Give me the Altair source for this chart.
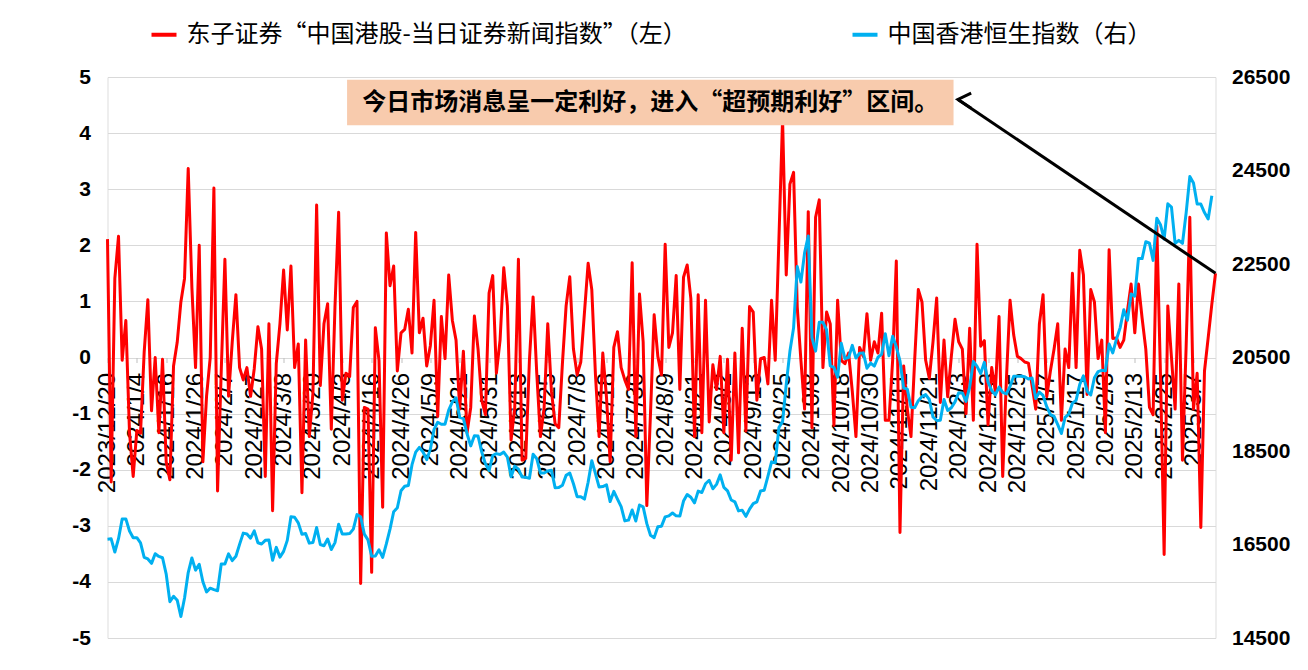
import altair as alt
import pandas as pd

# ---------------- data ----------------
TICK_LABELS = [
    "2023/12/20", "2024/1/4", "2024/1/16", "2024/1/26", "2024/2/7", "2024/2/27",
    "2024/3/8", "2024/3/20", "2024/4/3", "2024/4/16", "2024/4/26", "2024/5/9",
    "2024/5/21", "2024/5/31", "2024/6/13", "2024/6/25", "2024/7/8", "2024/7/18",
    "2024/7/30", "2024/8/9", "2024/8/21", "2024/9/2", "2024/9/13", "2024/9/25",
    "2024/10/8", "2024/10/18", "2024/10/30", "2024/11/11", "2024/11/21", "2024/12/3",
    "2024/12/13", "2024/12/25", "2025/1/7", "2025/1/17", "2025/2/3", "2025/2/13",
    "2025/2/25", "2025/3/7",
]
TICK_STEP = 8  # one label every 8 trading days

NEWS_INDEX = [
    2.11, -2.22, 1.41, 2.16, -0.05, 0.66, -1.34, -2.12, -1.3, -1.35,
    0.1, 1.03, -0.95, 0.0, -1.34, -0.03, -1.86, -2.18, -0.15, 0.27,
    0.99, 1.41, 3.37, 1.25, -0.18, 2.0, -1.86, -0.69, 0.0, 3.02,
    -2.38, -0.24, 1.75, -0.69, 0.28, 1.12, -0.18, -0.4, -0.18, -0.69,
    -0.2, 0.55, 0.15, -2.12, 0.6, -2.73, -0.11, 0.6, 1.56, 0.49,
    1.63, -0.18, 0.24, -2.41, 0.31, -1.41, -0.63, 2.72, -0.5, 0.6,
    0.96, -1.28, 0.9, 2.59, -0.76, -0.28, -0.34, 0.89, 1.0, -4.03,
    -0.89, -0.92, -3.83, 0.53, -0.05, -2.67, 2.22, 1.28, 1.63, -0.24,
    0.44, 0.5, 0.86, 0.08, 2.23, 0.44, 0.7, -0.15, 0.21, 1.02,
    -1.05, 0.73, -0.02, 1.47, 0.66, 0.31, -0.92, 0.11, -1.34, -0.89,
    0.74, 0.15, -0.76, -1.02, 1.15, 1.46, -0.28, 0.31, 1.6, 0.92,
    -1.47, -0.89, 1.75, -1.83, -1.8, -0.05, 1.08, -0.28, -1.41, -0.9,
    0.6, -0.6, -1.18, -1.25, -0.1, 0.92, 1.44, 0.15, -0.31, -0.08,
    0.8, 1.68, 1.21, -0.31, -1.41, 0.08, -0.7, -1.86, 0.18, 0.46,
    -0.18, -0.4, -0.57, 1.69, -1.41, 1.13, 0.28, -2.64, -1.0, 0.76,
    0.02, -0.31, 2.02, 0.18, 0.44, 1.46, -0.57, 1.43, 1.65, 1.05,
    -1.41, 1.12, -1.34, 1.02, -1.15, -0.13, -0.57, 0.02, -1.34, -0.03,
    -1.83, 0.08, -1.7, 0.52, -1.31, 0.91, 0.81, -0.76, -0.02, 0.0,
    -0.47, 1.02, -0.05, 2.1, 4.25, 1.47, 3.09, 3.3, 0.9, -0.05,
    -0.92, 2.6, -1.25, 2.5, 2.81, -0.18, 0.81, 0.6, -1.21, 1.02,
    -0.05, -0.11, 0.08, -0.6, -1.41, 0.18, 0.02, 0.78, -0.05, 0.28,
    0.08, 0.79, -1.12, -1.12, -0.05, 1.72, -3.12, -0.15, -0.92, -1.41,
    -0.05, 1.21, 0.99, -0.05, -0.37, 0.28, 1.06, -0.8, 0.31, -0.7,
    0.02, 0.68, 0.28, 0.15, -1.0, 0.52, -1.12, 2.02, 0.2, 0.3,
    -1.2, -0.18, -0.6, 0.73, -2.12, -0.4, 1.02, 0.4, 0.02, -0.02,
    -0.08, -0.1, -0.5, -0.92, 0.6, 1.12, -0.7, -0.24, 0.15, 0.6,
    -1.12, 0.15, -0.18, 1.5, -0.18, 1.91, 1.47, -0.66, 1.21, 0.99,
    -0.02, 0.31, -1.34, 1.92, 0.34, 0.35, 0.18, 0.31, 0.83, 1.31,
    0.44, 1.31, 0.7, 0.15, -0.89, -1.02, 2.35, -0.3, -3.51, 0.92,
    0.0, -0.92, 1.31, -1.83, 0.2, 2.5, -0.92, -0.28, -3.03, -0.24,
    0.35, 0.95, 1.5,
]

HSI = [
    16614, 16621, 16340, 16625, 17044, 17047, 16789, 16646,
    16646, 16535, 16224, 16190, 16097, 16302, 16245, 16216,
    15866, 15277, 15392, 15309, 14961, 15354, 15900, 16212,
    15952, 16077, 15703, 15485, 15566, 15534, 15510, 16082,
    16082, 16300, 16156, 16248, 16503, 16743, 16726, 16635,
    16791, 16537, 16511, 16589, 16596, 16163, 16438, 16230,
    16353, 16588, 17094, 17082, 16962, 16721, 16737, 16529,
    16543, 16863, 16499, 16474, 16618, 16393, 16541, 16932,
    16725, 16724, 16733, 16828, 17139, 17095, 16722, 16600,
    16249, 16252, 16386, 16224, 16512, 16829, 17201, 17285,
    17651, 17747, 17763, 18207, 18476, 18578, 18479, 18314,
    18537, 18963, 19115, 19073, 19073, 19376, 19553, 19636,
    19221, 19196, 18869, 18609, 18827, 18821, 18477, 18230,
    18080, 18403, 18444, 18425, 18476, 18367, 17951, 18176,
    18113, 17942, 17936, 17916, 18430, 18335, 18029, 18028,
    18073, 18090, 17716, 17719, 17769, 17979, 18028, 17800,
    17524, 17523, 17472, 17832, 18293, 18016, 17728, 17739,
    17778, 17418, 17636, 17469, 17311, 17005, 17021, 17238,
    17003, 17345, 17305, 16946, 16698, 16647, 16878, 16892,
    17090, 17112, 17174, 17113, 17109, 17430, 17570, 17511,
    17391, 17641, 17612, 17799, 17875, 17692, 17786, 17989,
    17723, 17646, 17452, 17413, 17219, 17235, 17102, 17258,
    17374, 17413, 17646, 17662, 17957, 18267, 18247, 19001,
    19129, 19925, 20632, 21134, 22444, 22114, 22737, 23100,
    20927, 20637, 21252, 21252, 21093, 20319, 20287, 20079,
    20804, 20478, 20499, 20760, 20490, 20590, 20599, 20271,
    20381, 20317, 20506, 20568, 21007, 20538, 20953, 20728,
    20427, 19847, 19823, 19436, 19426, 19577, 19664, 19705,
    19601, 19230, 19151, 19159, 19603, 19367, 19424, 19550,
    19746, 19742, 19560, 19866, 20414, 20311, 20155, 20397,
    19971, 19795, 19700, 19865, 19753, 19721, 19883, 20098,
    20098, 20098, 20090, 20041, 20060, 19623, 19760, 19688,
    19448, 19280, 19241, 19064, 18874, 19220, 19286, 19523,
    19584, 19926, 20107, 19779, 19701, 20066, 20198, 20225,
    20217, 20790, 20597, 20892, 21134, 21522, 21295, 21858,
    21814, 22620, 22616, 22977, 22944, 22577, 23478, 23342,
    23034, 23788, 23718, 22941, 23006, 22942, 23594, 24370,
    24231, 23783, 23782, 23600, 23463, 23960,
]

SERIES = ["东子证券“中国港股-当日证券新闻指数”（左）", "中国香港恒生指数（右）"]
COLORS = ["#FF0000", "#00B0F0"]

LEFT_TICKS = [-5, -4, -3, -2, -1, 0, 1, 2, 3, 4, 5]
RIGHT_TICKS = [14500, 16500, 18500, 20500, 22500, 24500, 26500]

ANNOT_TEXT = "今日市场消息呈一定利好，进入“超预期利好”区间。"
# annotation placement in data units (x = trading-day index, y = left axis)
BOX = {"x": 65.3, "x2": 230.6, "y": 4.95, "y2": 4.14}
ARROW = {"x": 231.8, "y": 4.6, "x2": 302, "y2": 1.5}

# ---------------- chart ----------------
W, H = 1108, 561
n = len(NEWS_INDEX)
red_df = pd.DataFrame({"i": list(range(n)), "v": NEWS_INDEX, "s": SERIES[0]})
blue_df = pd.DataFrame({"i": list(range(len(HSI))), "v": HSI, "s": SERIES[1]})

label_js = "[" + ",".join("'%s'" % t for t in TICK_LABELS) + "]"
xscale = alt.Scale(domain=[0, n - 1], nice=False, zero=False)
# category axis crosses the left axis at 0 (middle of the plot)
xaxis = alt.Axis(
    values=[k * TICK_STEP for k in range(len(TICK_LABELS))],
    labelExpr=label_js + "[round(datum.value/%d)]" % TICK_STEP,
    labelAngle=270, labelAlign="right", labelBaseline="middle",
    labelFont="Liberation Sans", labelFontSize=24, labelColor="black",
    labelPadding=10, labelOverlap=False, labelBound=False, labelFlush=False,
    ticks=True, tickColor="#BFBFBF", tickSize=5, domain=False, grid=False,
    orient="bottom", offset=-H / 2, title=None,
)
lscale = alt.Scale(domain=[-5, 5], nice=False, zero=False)
rscale = alt.Scale(domain=[14500, 26500], nice=False, zero=False)

color = alt.Color(
    "s:N",
    scale=alt.Scale(domain=SERIES, range=COLORS),
    legend=alt.Legend(
        title=None, orient="none", legendX=42, legendY=-57,
        direction="horizontal", columns=2, columnPadding=145,
        symbolType="stroke", symbolSize=625, symbolStrokeWidth=4,
        labelFont="Noto Sans CJK SC", labelFontSize=24, labelColor="black",
        labelLimit=2000, labelOffset=8, padding=0,
    ),
    sort=SERIES,
)

red = alt.Chart(red_df).mark_line(strokeWidth=3, strokeJoin="round").encode(
    x=alt.X("i:Q", scale=xscale, axis=xaxis),
    y=alt.Y("v:Q", scale=lscale, axis=alt.Axis(
        values=LEFT_TICKS, labelExpr="'' + datum.value", orient="left",
        labelFont="Liberation Sans", labelFontSize=21, labelFontWeight="bold",
        labelColor="black", labelPadding=17, ticks=False, domain=False,
        grid=True, gridColor="#D9D9D9", gridWidth=1, title=None)),
    color=color,
)

blue = alt.Chart(blue_df).mark_line(strokeWidth=3, strokeJoin="round").encode(
    x=alt.X("i:Q", scale=xscale, axis=xaxis),
    y=alt.Y("v:Q", scale=rscale, axis=alt.Axis(
        values=RIGHT_TICKS, labelExpr="'' + datum.value", orient="right",
        labelFont="Liberation Sans", labelFontSize=21, labelFontWeight="bold",
        labelColor="black", labelPadding=16, ticks=False, domain=False,
        grid=False, title=None)),
    color=color,
)

box_df = pd.DataFrame([BOX])
box = alt.Chart(box_df).mark_rect(color="#F8CBAD").encode(
    x=alt.X("x:Q", scale=xscale, axis=xaxis),
    x2="x2:Q",
    y=alt.Y("y:Q", scale=lscale, axis=None),
    y2="y2:Q",
)

txt_df = pd.DataFrame([{"x": (BOX["x"] + BOX["x2"]) / 2,
                        "y": (BOX["y"] + BOX["y2"]) / 2, "t": ANNOT_TEXT}])
txt = alt.Chart(txt_df).mark_text(
    font="Noto Sans CJK SC", fontSize=24, fontWeight="bold", color="black",
    align="center", baseline="middle",
).encode(
    x=alt.X("x:Q", scale=xscale, axis=xaxis),
    y=alt.Y("y:Q", scale=lscale, axis=None),
    text="t:N",
)

arrow_df = pd.DataFrame([ARROW])
arrow = alt.Chart(arrow_df).mark_rule(color="black", strokeWidth=3).encode(
    x=alt.X("x:Q", scale=xscale, axis=xaxis),
    x2="x2:Q",
    y=alt.Y("y:Q", scale=lscale, axis=None),
    y2="y2:Q",
)
head = alt.Chart(arrow_df).mark_point(
    shape="M0.66,-0.32L0,0L0.66,0.44", size=1600, filled=False,
    color="black", strokeWidth=3, opacity=1,
).encode(
    x=alt.X("x:Q", scale=xscale, axis=xaxis),
    y=alt.Y("y:Q", scale=lscale, axis=None),
)

chart = alt.layer(red, blue, box, txt, arrow, head).resolve_scale(
    y="independent"
).properties(
    width=W, height=H,
    autosize=alt.AutoSizeParams(type="none"),
    padding={"left": 99.5, "top": 69, "right": 84.5, "bottom": 24},
).configure_view(stroke=None).configure(background="white")

chart.save("out.html", embed_options={"renderer": "svg", "actions": False})
